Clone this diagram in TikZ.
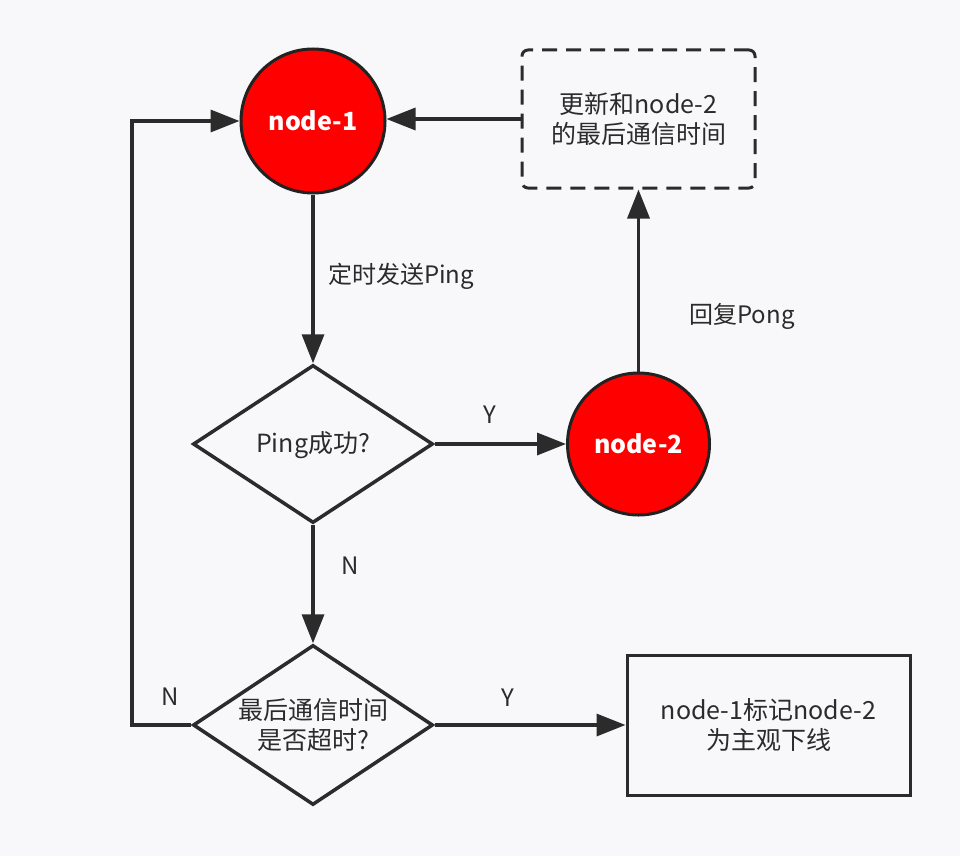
\documentclass[tikz,border=0pt]{standalone}
\usepackage{fontspec}
\setmainfont{Noto Sans CJK SC}
\usetikzlibrary{shapes.geometric,arrows.meta}
\definecolor{ink}{HTML}{2B2B2B}
\definecolor{redfill}{HTML}{FF0000}
\definecolor{bg}{HTML}{F8F8FA}
\tikzset{
  conn/.style={draw=ink, line width=3.5pt, -{Triangle[length=29pt,width=22pt]}},
  circ/.style={circle, draw=ink!80!black, line width=3pt, fill=redfill, text=white, inner sep=0pt, font=\fontsize{25}{28}\selectfont\bfseries},
  dbox/.style={rectangle, draw=ink, line width=3pt, dash pattern=on 15pt off 9pt, rounded corners=6pt, align=center, inner sep=0pt, font=\fontsize{25}{30}\selectfont, text=ink},
  sbox/.style={rectangle, draw=ink, line width=3pt, align=center, inner sep=0pt, font=\fontsize{25}{30}\selectfont, text=ink},
  dia/.style={diamond, draw=ink, line width=3.5pt, inner sep=0pt, aspect=1.5},
  txt/.style={text=ink, align=center, font=\fontsize{25}{30}\selectfont, inner sep=0pt},
  lbl/.style={text=ink, font=\fontsize{24}{28}\selectfont, inner sep=0pt}
}
\begin{document}
\begin{tikzpicture}[x=1pt,y=-1pt]
\fill[bg] (0,0) rectangle (960,856);
\useasboundingbox (0,0) rectangle (960,856);

\node[circ, minimum size=144pt] (n1) at (313,121) {node-1};
\node[dbox, minimum width=233pt, minimum height=138pt] (upd) at (638.5,119) {更新和node-2\\的最后通信时间};
\node[circ, minimum size=142pt] (n2) at (638.5,444) {node-2};
\node[dia, minimum width=240pt, minimum height=158pt] (d1) at (313,444) {};
\node[txt] (d1t) at (313,445) {Ping成功?};
\node[dia, minimum width=240pt, minimum height=160pt] (d2) at (313,725) {};
\node[txt] (d2t) at (313,725) {最后通信时间\\是否超时?};
\node[sbox, minimum width=283pt, minimum height=140pt] (res) at (768.5,725) {node-1标记node-2\\为主观下线};

\coordinate (lb) at (132,725);
\coordinate (lt) at (132,121);

\draw[conn] (upd.west) -- (upd.west -| n1.east);
\draw[conn] (n1.south) -- (d1.north);
\draw[conn] (d1.east) -- (n2.west);
\draw[conn] (n2.north) -- (upd.south);
\draw[conn] (d1.south) -- (d2.north);
\draw[conn] (d2.east) -- (res.west);
\draw[conn] (d2.west) -- (lb) -- (lt) -- (n1.west);

\node[lbl, anchor=west] (l1) at (328,276) {定时发送Ping};
\node[lbl] (l2) at (742,316) {回复Pong};
\node[lbl] (l3) at (490,415) {Y};
\node[lbl] (l4) at (350,566) {N};
\node[lbl] (l5) at (508,698) {Y};
\node[lbl] (l6) at (170,697) {N};
\end{tikzpicture}
\end{document}
